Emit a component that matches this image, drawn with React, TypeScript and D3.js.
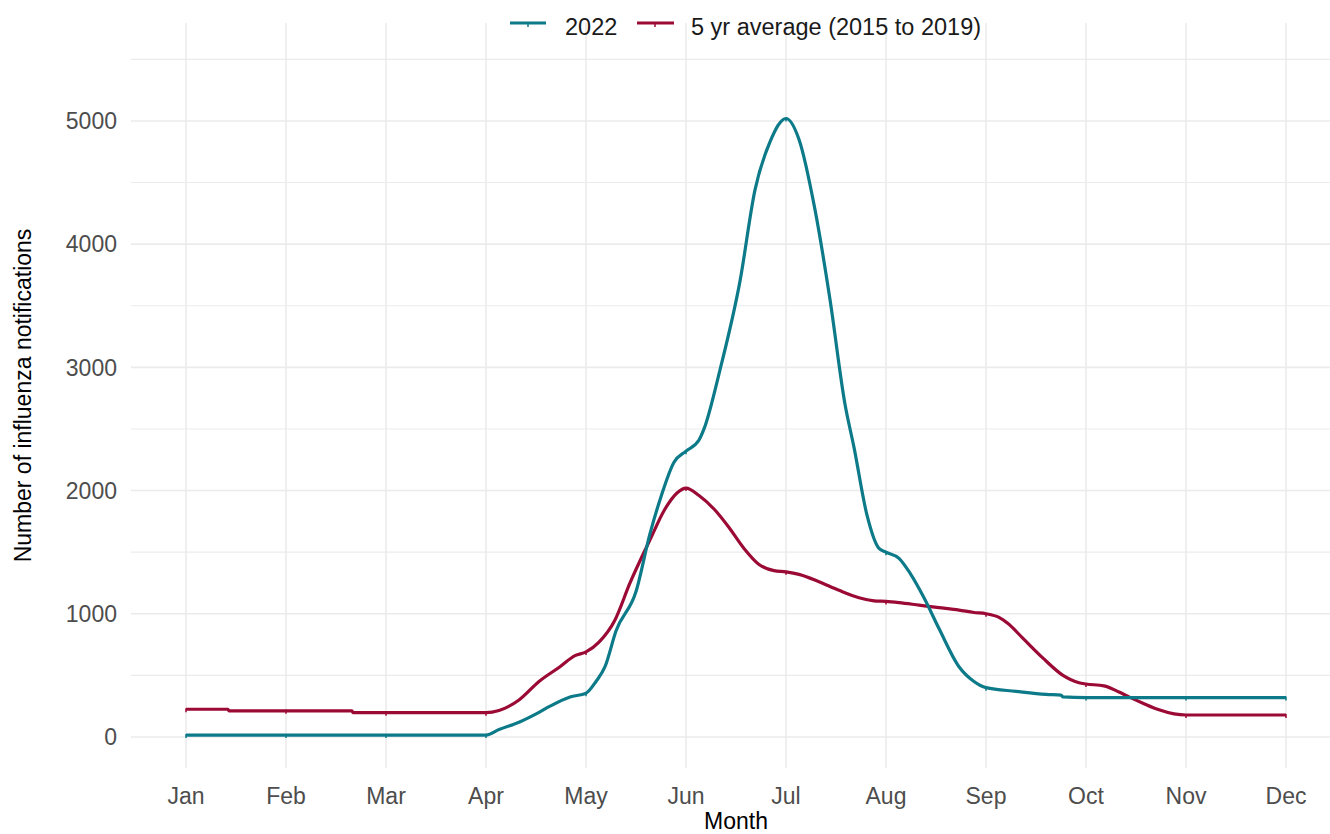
import React from "react";
import * as d3 from "d3";

const monthLabels = ["Jan","Feb","Mar","Apr","May","Jun","Jul","Aug","Sep","Oct","Nov","Dec"];
const yTicks = [0, 1000, 2000, 3000, 4000, 5000];
const yMinor = [500, 1500, 2500, 3500, 4500, 5500];

// x in months since Jan (0 = Jan, 11 = Dec)
const x2022 = [0,1,2,3,3.13,3.33,3.53,3.64,3.84,4,4.1,4.19,4.3,4.5,4.64,4.75,4.88,5,5.13,5.18,5.34,5.54,5.69,5.84,6,6.13,6.29,6.44,6.59,6.68,6.81,6.93,7,7.13,7.24,7.38,7.53,7.73,7.88,8,8.3,8.6,8.75,8.77,9,10,11];
const v2022 = [15,15,15,15,60,120,200,250,325,355,450,570,860,1180,1650,1950,2230,2320,2410,2500,2980,3700,4440,4830,5020,4850,4280,3550,2700,2350,1800,1530,1500,1450,1330,1130,880,570,450,400,370,345,340,325,320,320,320];

const xAvg = [0,0.42,0.43,1,1.66,1.67,2,3,3.13,3.33,3.53,3.74,3.89,4,4.13,4.29,4.44,4.64,4.79,4.91,5,5.13,5.28,5.43,5.58,5.73,5.88,6,6.13,6.33,6.53,6.73,6.88,7,7.13,7.33,7.53,7.73,7.88,8,8.13,8.22,8.37,8.57,8.77,8.93,9,9.18,9.33,9.43,9.58,9.73,9.88,10,11];
const vAvg = [225,225,212,212,212,197,197,197,215,300,450,570,660,690,770,950,1250,1600,1850,1980,2020,1960,1850,1700,1530,1400,1350,1340,1320,1260,1190,1130,1105,1100,1090,1070,1050,1030,1010,1000,970,920,800,640,500,440,430,415,365,325,270,220,187,178,178];

const seriesNames = ["2022", "5 yr average (2015 to 2019)"];
const seriesColors = ["#0C7A89", "#9B0A35"];

export default function App() {
  const W = 1330, H = 834;
  const left = 131, right = 1341, top = 23, bottom = 768;
  const x = d3.scaleLinear().domain([-0.55, 11.55]).range([left, right]);
  const y = d3.scaleLinear().domain([-252, 5795]).range([bottom, top]);
  const line = d3.line<[number, number]>()
    .x(d => x(d[0]))
    .y(d => y(d[1]))
    .curve(d3.curveMonotoneX);
  const s1 = x2022.map((d, i) => [d, v2022[i]] as [number, number]);
  const s2 = xAvg.map((d, i) => [d, vAvg[i]] as [number, number]);
  const months = d3.range(12);
  const font = "'Liberation Sans', Arial, sans-serif";
  const markerAt = (xs: number[], vs: number[]) =>
    months.map(m => {
      const idx = xs.indexOf(m);
      return idx >= 0 ? vs[idx] : null;
    });
  const m1 = markerAt(x2022, v2022);
  const m2 = markerAt(xAvg, vAvg);
  return (
    <svg width={W} height={H} style={{ position: "absolute", left: 0, top: 0, background: "#fff" }} fontFamily={font}>
      <rect width={W} height={H} fill="#fff" />
      {yMinor.map(t => (
        <line key={"mn" + t} x1={left} x2={right} y1={y(t)} y2={y(t)} stroke="#EBEBEB" strokeWidth={1.1} />
      ))}
      {yTicks.map(t => (
        <line key={"mj" + t} x1={left} x2={right} y1={y(t)} y2={y(t)} stroke="#EBEBEB" strokeWidth={1.6} />
      ))}
      {months.map(m => (
        <line key={"vx" + m} x1={x(m)} x2={x(m)} y1={top} y2={bottom} stroke="#EBEBEB" strokeWidth={1.6} />
      ))}
      {yTicks.map(t => (
        <text key={"yl" + t} x={117} y={y(t)} dy="0.36em" textAnchor="end" fontSize={23} fill="#4D4D4D">{t}</text>
      ))}
      {months.map(m => (
        <text key={"xl" + m} x={x(m)} y={804} textAnchor="middle" fontSize={23} fill="#4D4D4D">{monthLabels[m]}</text>
      ))}
      <text x={(left + right) / 2} y={829} textAnchor="middle" fontSize={23} fill="#000">Month</text>
      <text transform={`translate(31, ${(top + bottom) / 2}) rotate(-90)`} textAnchor="middle" fontSize={23} fill="#000">Number of influenza notifications</text>
      <path d={line(s2) || ""} fill="none" stroke={seriesColors[1]} strokeWidth={3.2} strokeLinejoin="round" />
      <path d={line(s1) || ""} fill="none" stroke={seriesColors[0]} strokeWidth={3.2} strokeLinejoin="round" />
      {months.map(m => m2[m] !== null ? (
        <line key={"p2" + m} x1={x(m)} x2={x(m)} y1={y(m2[m] as number) - 1} y2={y(m2[m] as number) + 3} stroke={seriesColors[1]} strokeWidth={1.5} />
      ) : null)}
      {months.map(m => m1[m] !== null ? (
        <line key={"p1" + m} x1={x(m)} x2={x(m)} y1={y(m1[m] as number) - 1} y2={y(m1[m] as number) + 3} stroke={seriesColors[0]} strokeWidth={1.5} />
      ) : null)}
      {/* legend */}
      <g>
        <line x1={510} x2={546} y1={23} y2={23} stroke={seriesColors[0]} strokeWidth={3} />
        <line x1={528} x2={528} y1={23} y2={27} stroke={seriesColors[0]} strokeWidth={1.5} />
        <text x={565} y={35} fontSize={23.5} fill="#1a1a1a">{seriesNames[0]}</text>
        <line x1={637} x2={674} y1={23} y2={23} stroke={seriesColors[1]} strokeWidth={3} />
        <line x1={655} x2={655} y1={23} y2={27} stroke={seriesColors[1]} strokeWidth={1.5} />
        <text x={691} y={35} fontSize={23.5} fill="#1a1a1a">{seriesNames[1]}</text>
      </g>
    </svg>
  );
}
